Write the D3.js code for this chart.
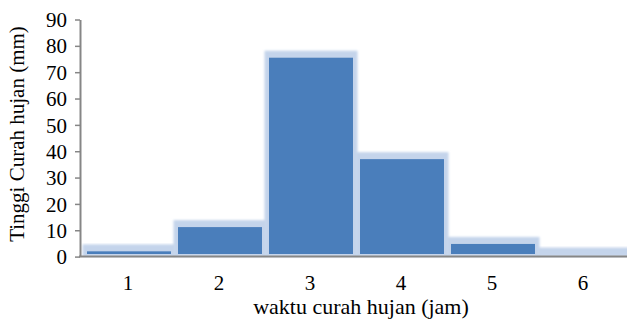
<!DOCTYPE html>
<html>
<head>
<meta charset="utf-8">
<script src="https://cdn.jsdelivr.net/npm/d3@7"></script>
<style>
  html, body { margin: 0; padding: 0; background: #fff; }
  svg { display: block; }
  svg text { font-family: "Liberation Serif", "Times New Roman", Tinos, "DejaVu Serif", serif !important; fill: #000; }
</style>
</head>
<body>
<svg id="chart" width="627" height="324"></svg>
<script>
// Rainfall depth per hour of the storm
const hours = ["1", "2", "3", "4", "5", "6"];
const rainfall = [2.0, 11.2, 75.5, 37.0, 4.8, 0.8];
const yTicks = [0, 10, 20, 30, 40, 50, 60, 70, 80, 90];
const xTitle = "waktu curah hujan (jam)";
const yTitle = "Tinggi Curah hujan (mm)";

const svg = d3.select("#chart");
const W = 627, H = 324;
const axisX = 80;

const x = d3.scaleBand().domain(hours).range([82.5, 628.5]).paddingInner(0).paddingOuter(0);
const y = d3.scaleLinear().domain([0, 90]).range([256.6, 19.5]);

const defs = svg.append("defs");
defs.append("filter").attr("id", "glow")
  .attr("x", "-10%").attr("y", "-10%").attr("width", "120%").attr("height", "120%")
  .append("feGaussianBlur").attr("stdDeviation", 0.9);

const base = y(0);
const inset = 4.5;
const barW = x.bandwidth() - 7;

// soft light halo behind each bar
svg.append("g").attr("class", "halo")
  .selectAll("rect").data(hours).join("rect")
  .attr("x", d => x(d) + inset - 4.5)
  .attr("width", barW + 9)
  .attr("y", (d, i) => y(rainfall[i]) - 7)
  .attr("height", (d, i) => base - y(rainfall[i]) + 7)
  .attr("fill", "#c4d4eb")
  .attr("filter", "url(#glow)");

// solid bars
svg.append("g").attr("class", "bars")
  .selectAll("rect").data(hours).join("rect")
  .attr("x", d => x(d) + inset)
  .attr("width", barW)
  .attr("y", (d, i) => y(rainfall[i]))
  .attr("height", (d, i) => Math.max(0, base - 2.6 - y(rainfall[i])))
  .attr("fill", "#4a7ebb");

// y axis
const yAxis = svg.append("g").attr("transform", `translate(${axisX},0)`)
  .call(d3.axisLeft(y).tickValues(yTicks).tickSize(5).tickPadding(8).tickSizeOuter(0))
  .attr("font-family", null).attr("font-size", null);
yAxis.select(".domain").attr("stroke", "#868686").attr("stroke-width", 2);
yAxis.selectAll(".tick line").attr("stroke", "#868686").attr("stroke-width", 1.5);
yAxis.selectAll(".tick text").attr("font-size", 21).attr("dy", "0.34em").attr("fill", "#000");

// x axis
const xAxis = svg.append("g").attr("transform", `translate(0,${base})`)
  .call(d3.axisBottom(x).tickSize(0).tickPadding(18))
  .attr("font-family", null).attr("font-size", null);
xAxis.select(".domain").remove();
xAxis.selectAll(".tick text").attr("font-size", 21).attr("fill", "#000");
svg.append("line")
  .attr("x1", axisX - 1).attr("x2", W)
  .attr("y1", base).attr("y2", base)
  .attr("stroke", "#868686").attr("stroke-width", 2);

// axis titles
svg.append("text")
  .attr("x", 361).attr("y", 314)
  .attr("text-anchor", "middle").attr("font-size", 22)
  .text(xTitle);

svg.append("text")
  .attr("transform", "translate(24,134) rotate(-90)")
  .attr("text-anchor", "middle").attr("font-size", 21)
  .text(yTitle);
</script>
</body>
</html>
